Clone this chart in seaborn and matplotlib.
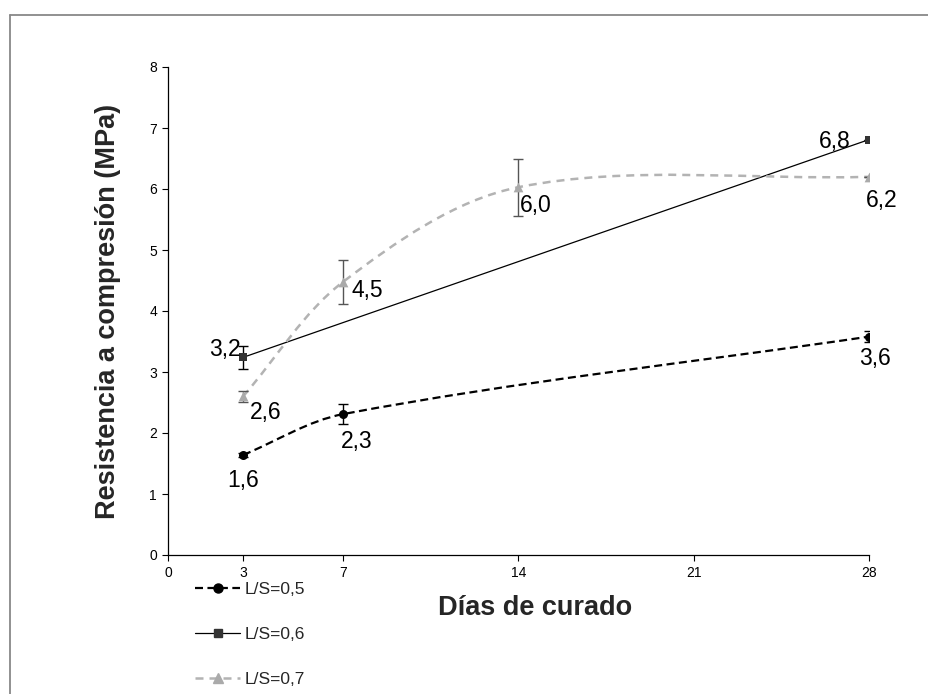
import numpy as np
import matplotlib
matplotlib.use("Agg")
import matplotlib.pyplot as plt
from matplotlib.path import Path
from matplotlib.patches import PathPatch
from matplotlib.lines import Line2D
import seaborn as sns

# Datos
dias_05 = [3, 7, 28]
res_05 = [1.64, 2.31, 3.58]
err_05 = [0.03, 0.17, 0.09]

dias_06 = [3, 28]
res_06 = [3.24, 6.81]
err_06 = [0.19, 0.0]

dias_07 = [3, 7, 14, 28]
res_07 = [2.60, 4.48, 6.03, 6.20]
err_07 = [0.09, 0.36, 0.47, 0.0]

series = ["L/S=0,5", "L/S=0,6", "L/S=0,7"]
xticks = [0, 3, 7, 14, 21, 28]
yticks = [0, 1, 2, 3, 4, 5, 6, 7, 8]

sns.set_style("ticks")
plt.rcParams['font.family'] = ['Liberation Sans', 'DejaVu Sans']

W, H = 929, 694
fig = plt.figure(figsize=(W / 100, H / 100), dpi=100)
ax = fig.add_axes([168 / W, 1 - 555 / H, 701 / W, 488 / H])
ax.set_xlim(0, 28)
ax.set_ylim(0, 8)


def curva_suave(ax, xs, ys):
    # linea suavizada tipo Excel (bezier entre los puntos)
    pts = ax.transData.transform(np.column_stack([xs, ys]))
    n = len(pts)
    verts = [pts[0]]
    codes = [Path.MOVETO]
    for i in range(n - 1):
        p0 = pts[i - 1] if i > 0 else pts[i]
        p1, p2 = pts[i], pts[i + 1]
        p3 = pts[i + 2] if i + 2 < n else pts[i + 1]
        d = np.linalg.norm(p2 - p1)
        d0 = np.linalg.norm(p1 - p0)
        d2 = np.linalg.norm(p3 - p2)
        c1 = p1 + (p2 - p0) * d / (d0 + d) / 3
        c2 = p2 - (p3 - p1) * d / (d + d2) / 3
        verts += [c1, c2, p2]
        codes += [Path.CURVE4] * 3
    verts = ax.transData.inverted().transform(np.array(verts))
    return Path(verts, codes)


estilos = [
    dict(x=dias_05, y=res_05, e=err_05, color='black', ls=(0, (3.6, 2.0)), lw=1.6,
         marker='o', ms=6.5, mcolor='black', ecolor='black', suave=True),
    dict(x=dias_06, y=res_06, e=err_06, color='black', ls='-', lw=0.9,
         marker='s', ms=6, mcolor='#333333', ecolor='black', suave=False),
    dict(x=dias_07, y=res_07, e=err_07, color='#b3b3b3', ls=(0, (3.2, 2.4)), lw=1.8,
         marker='^', ms=7, mcolor='#aaaaaa', ecolor='#555555', suave=True),
]

for st in estilos:
    if st['suave']:
        path = curva_suave(ax, st['x'], st['y'])
        ax.add_patch(PathPatch(path, facecolor='none', edgecolor=st['color'],
                               lw=st['lw'], linestyle=st['ls'], zorder=2))
    else:
        ax.plot(st['x'], st['y'], color=st['color'], lw=st['lw'], ls=st['ls'], zorder=2)
    ax.errorbar(st['x'], st['y'], yerr=st['e'], fmt='none', ecolor=st['ecolor'],
                elinewidth=1.0, capsize=3.4, capthick=1.0, zorder=3)
    sns.scatterplot(x=st['x'], y=st['y'], marker=st['marker'], s=st['ms'] ** 2,
                    color=st['mcolor'], edgecolor=st['mcolor'], linewidth=0,
                    ax=ax, zorder=4, legend=False)

# etiquetas de valores (desplazamiento en pixeles)
desp = [
    [(0, 26), (13, 27), (6, 22)],
    [(-18, -8), (-34, 2)],
    [(23, 16), (24, 9), (17, 18), (13, 24)],
]
for st, ds in zip(estilos, desp):
    for xv, yv, (dx, dy) in zip(st['x'], st['y'], ds):
        ax.annotate(f"{yv:.1f}".replace('.', ','), (xv, yv), xytext=(dx, -dy),
                    textcoords='offset pixels', ha='center', va='center',
                    fontsize=16.5, color='black', zorder=5)

ax.set_xticks(xticks)
ax.set_yticks(yticks)
ax.tick_params(axis='both', labelsize=10, length=4, width=0.8, color='black',
               labelcolor='black', pad=4)
for s in ['left', 'bottom']:
    ax.spines[s].set_color('black')
    ax.spines[s].set_linewidth(0.9)
sns.despine(ax=ax)

ax.set_xlabel("Días de curado", fontsize=19.5, fontweight='bold', va='center')
ax.xaxis.set_label_coords((535 - 168) / 701, -(608 - 555) / 488)
ax.set_ylabel("Resistencia a compresión (MPa)", fontsize=19.5, fontweight='bold',
              va='center')
ax.yaxis.set_label_coords(-(168 - 108) / 701, 0.5)

handles = [Line2D([], [], color=st['color'], ls=st['ls'], lw=st['lw'],
                  marker=st['marker'], ms=st['ms'], markerfacecolor=st['mcolor'],
                  markeredgecolor=st['mcolor']) for st in estilos]
fig.legend(handles, series, loc='upper left', bbox_to_anchor=(195 / W, 1 - 582 / H),
           frameon=False, fontsize=12.5, handlelength=2.6, handletextpad=0.25,
           labelspacing=1.72, borderpad=0, borderaxespad=0, numpoints=1)

# marco de la imagen
fig.add_artist(Line2D([10 / W, 1], [1 - 15 / H, 1 - 15 / H], transform=fig.transFigure,
                      color='#888888', lw=1.3))
fig.add_artist(Line2D([10 / W, 10 / W], [0, 1 - 15 / H], transform=fig.transFigure,
                      color='#888888', lw=1.3))

fig.savefig('out.png', dpi=100)
